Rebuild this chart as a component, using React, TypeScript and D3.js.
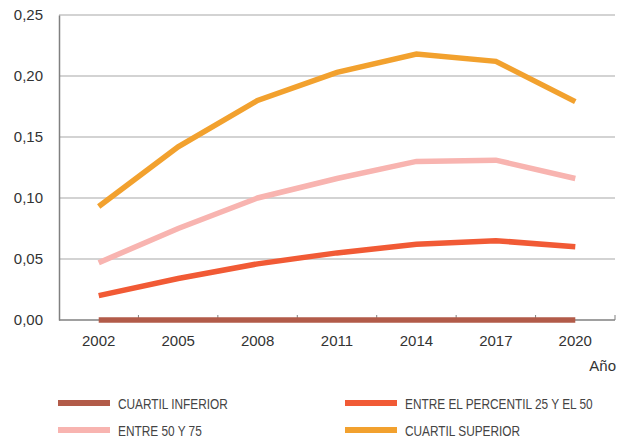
import { useRef, useEffect } from 'react';
import * as d3 from 'd3';

const years = ['2002', '2005', '2008', '2011', '2014', '2017', '2020'];
const cuartilInferior = [0, 0, 0, 0, 0, 0, 0];
const percentil25a50 = [0.02, 0.034, 0.046, 0.055, 0.062, 0.065, 0.06];
const entre50y75 = [0.047, 0.075, 0.1, 0.116, 0.13, 0.131, 0.116];
const cuartilSuperior = [0.093, 0.142, 0.18, 0.203, 0.218, 0.212, 0.179];
const yTicks = [0, 0.05, 0.1, 0.15, 0.2, 0.25];

const series = [
  { name: 'CUARTIL INFERIOR', values: cuartilInferior, color: '#B25B49' },
  { name: 'ENTRE EL PERCENTIL 25 Y EL 50', values: percentil25a50, color: '#F15A35' },
  { name: 'ENTRE 50 Y 75', values: entre50y75, color: '#F8B4B0' },
  { name: 'CUARTIL SUPERIOR', values: cuartilSuperior, color: '#F2A12E' },
];

const App = () => {
  const svgRef = useRef<SVGSVGElement>(null);

  useEffect(() => {
    const width = 624;
    const height = 438;
    const margin = { top: 15, right: 9, bottom: 118, left: 59 };
    const svg = d3.select(svgRef.current);
    svg.selectAll('*').remove();

    const x = d3
      .scaleBand()
      .domain(years)
      .range([margin.left, width - margin.right]);
    const y = d3
      .scaleLinear()
      .domain([0, 0.25])
      .range([height - margin.bottom, margin.top]);

    const fmt = (v: number) => v.toFixed(2).replace('.', ',');

    // gridlines
    svg.append('g')
      .selectAll('line')
      .data(yTicks.slice(1))
      .enter()
      .append('line')
      .attr('x1', margin.left)
      .attr('x2', width - margin.right)
      .attr('y1', d => y(d))
      .attr('y2', d => y(d))
      .attr('stroke', '#a7a7a7')
      .attr('stroke-width', 1);

    // y axis
    const yAxis = svg.append('g')
      .attr('transform', `translate(${margin.left},0)`)
      .call(d3.axisLeft(y).tickValues(yTicks).tickFormat(d => fmt(+d)).tickSize(0).tickPadding(16));
    yAxis.select('.domain').attr('stroke', '#808080').attr('stroke-width', 1.5);
    yAxis.selectAll('text')
      .attr('font-size', 15)
      .attr('font-family', 'Liberation Sans, Arial, sans-serif')
      .attr('fill', '#333');

    // x axis
    const x0 = height - margin.bottom;
    svg.append('line')
      .attr('x1', margin.left)
      .attr('x2', width - margin.right)
      .attr('y1', x0)
      .attr('y2', x0)
      .attr('stroke', '#808080')
      .attr('stroke-width', 1.5);
    const bounds = years.slice(1).map(d => x(d) as number).concat([width - margin.right]);
    svg.append('g')
      .selectAll('line')
      .data(bounds)
      .enter()
      .append('line')
      .attr('x1', d => d)
      .attr('x2', d => d)
      .attr('y1', x0)
      .attr('y2', x0 - 5)
      .attr('stroke', '#808080')
      .attr('stroke-width', 1);
    svg.append('g')
      .selectAll('text')
      .data(years)
      .enter()
      .append('text')
      .text(d => d)
      .attr('x', d => (x(d) as number) + x.bandwidth() / 2)
      .attr('y', x0 + 26)
      .attr('text-anchor', 'middle')
      .attr('font-size', 15)
      .attr('font-family', 'Liberation Sans, Arial, sans-serif')
      .attr('fill', '#333');
    svg.append('text')
      .text('Año')
      .attr('x', 616)
      .attr('y', x0 + 51)
      .attr('text-anchor', 'end')
      .attr('font-size', 15)
      .attr('font-family', 'Liberation Sans, Arial, sans-serif')
      .attr('fill', '#333');

    // lines
    const line = d3
      .line<number>()
      .x((_, i) => (x(years[i]) as number) + x.bandwidth() / 2)
      .y(d => y(d));
    svg.append('g')
      .selectAll('path')
      .data(series)
      .enter()
      .append('path')
      .attr('d', d => line(d.values))
      .attr('fill', 'none')
      .attr('stroke', d => d.color)
      .attr('stroke-width', 5.5);

    // legend
    const legendPos = [
      { x: 58, y: 403 },
      { x: 345, y: 403 },
      { x: 58, y: 430 },
      { x: 345, y: 430 },
    ];
    const lg = svg.append('g')
      .selectAll('g')
      .data(series)
      .enter()
      .append('g')
      .attr('transform', (_, i) => `translate(${legendPos[i].x},${legendPos[i].y})`);
    lg.append('line')
      .attr('x1', 0)
      .attr('x2', 52)
      .attr('stroke', d => d.color)
      .attr('stroke-width', 6);
    lg.append('text')
      .text(d => d.name)
      .attr('transform', 'translate(60,5.5) scale(0.79,1)')
      .attr('font-size', 15)
      .attr('font-family', 'Liberation Sans, Arial, sans-serif')
      .attr('fill', '#444');
  }, []);

  return (
    <div style={{ position: 'absolute', left: 0, top: 0 }}>
      <svg ref={svgRef} width={624} height={438}></svg>
    </div>
  );
};

export default App;
